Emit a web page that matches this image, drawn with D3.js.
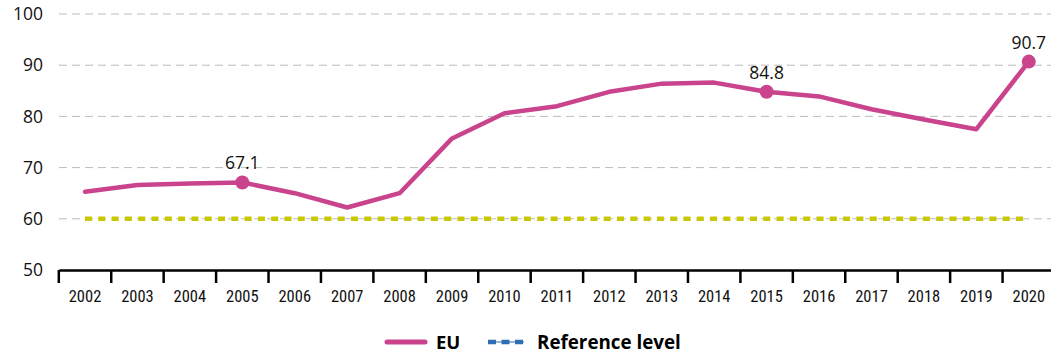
<!DOCTYPE html>
<html><head><meta charset="utf-8">
<script src="https://cdn.jsdelivr.net/npm/d3@7"></script>
<style>body{margin:0;background:#fff}svg{display:block}</style>
</head><body><svg id="c" width="1051" height="356"></svg>
<script>
const years = ["2002","2003","2004","2005","2006","2007","2008","2009","2010","2011","2012","2013","2014","2015","2016","2017","2018","2019","2020"];
const euValues = [65.3,66.6,66.9,67.1,65.0,62.2,65.0,75.7,80.6,82.0,84.8,86.4,86.6,84.8,83.9,81.4,79.4,77.5,90.7];
const referenceLevel = [60,60,60,60,60,60,60,60,60,60,60,60,60,60,60,60,60,60,60];
const labelledYears = ["2005","2015","2020"];
const yTicks = [50,60,70,80,90,100];

const svg = d3.select("#c");
const x = d3.scaleBand().domain(years).range([58.8, 1055]);
const y = d3.scaleLinear().domain([50,100]).range([270, 14]);
const cx = d => x(d) + x.bandwidth()/2;

// gridlines
svg.append("g").selectAll("line").data(yTicks.filter(t=>t>50)).join("line")
  .attr("x1",59).attr("x2",1051).attr("y1",d=>y(d)).attr("y2",d=>y(d))
  .attr("stroke","#bcbcbc").attr("stroke-width",1).attr("stroke-dasharray","8,5");

// y labels
svg.append("g").selectAll("text").data(yTicks).join("text")
  .attr("x",43).attr("y",d=>y(d)).attr("dy","0.35em").attr("text-anchor","end")
  .attr("font-family","'Open Sans', sans-serif").attr("font-size",17.5).attr("fill","#111")
  .text(d=>d);

// x axis
const xa = svg.append("g").attr("transform","translate(0,270)")
  .call(d3.axisBottom(x).tickSize(0).tickSizeOuter(0));
xa.select(".domain").attr("stroke","#000").attr("stroke-width",2.5);
xa.selectAll(".tick text").attr("dy",0).attr("y",32)
  .attr("font-family","'Liberation Sans Narrow','Roboto Condensed','Open Sans',sans-serif")
  .attr("font-size",16.5).attr("fill","#111");
svg.append("g").selectAll("line").data(years).join("line")
  .attr("x1",d=>x(d)).attr("x2",d=>x(d)).attr("y1",270).attr("y2",283)
  .attr("stroke","#000").attr("stroke-width",2.5);

// reference level
svg.append("path").datum(referenceLevel)
  .attr("d", d3.line().x((d,i)=>cx(years[i])).y(d=>y(d)))
  .attr("fill","none").attr("stroke","#c8c800").attr("stroke-width",4.5)
  .attr("stroke-dasharray","7,6.3");

// EU line
svg.append("path").datum(euValues)
  .attr("d", d3.line().x((d,i)=>cx(years[i])).y(d=>y(d)))
  .attr("fill","none").attr("stroke","#c9448c").attr("stroke-width",4.5)
  .attr("stroke-linejoin","round").attr("stroke-linecap","round");

const lab = years.map((yr,i)=>({yr, v:euValues[i]})).filter(d=>labelledYears.includes(d.yr));
svg.append("g").selectAll("circle").data(lab).join("circle")
  .attr("cx",d=>cx(d.yr)).attr("cy",d=>y(d.v)).attr("r",7).attr("fill","#c9448c");
svg.append("g").selectAll("text").data(lab).join("text")
  .attr("x",d=>cx(d.yr)).attr("y",d=>y(d.v)-13).attr("text-anchor","middle")
  .attr("font-family","'Open Sans', sans-serif").attr("font-size",17.5).attr("fill","#111")
  .text(d=>d.v.toFixed(1));

// legend
const lg = svg.append("g");
lg.append("line").attr("x1",387).attr("x2",425).attr("y1",342).attr("y2",342)
  .attr("stroke","#c9448c").attr("stroke-width",5).attr("stroke-linecap","round");
lg.append("text").attr("x",436).attr("y",349).attr("font-family","'Open Sans', sans-serif")
  .attr("font-weight","bold").attr("font-size",18.5).attr("fill","#000").text("EU");
lg.append("line").attr("x1",488).attr("x2",524).attr("y1",342).attr("y2",342)
  .attr("stroke","#2e6eb5").attr("stroke-width",1);
lg.append("line").attr("x1",488).attr("x2",524).attr("y1",342).attr("y2",342)
  .attr("stroke","#2e6eb5").attr("stroke-width",4.5).attr("stroke-dasharray","8,5.5");
lg.append("text").attr("x",537).attr("y",349).attr("font-family","'Open Sans', sans-serif")
  .attr("font-weight","bold").attr("font-size",18.8).attr("fill","#000").text("Reference level");
</script></body></html>
